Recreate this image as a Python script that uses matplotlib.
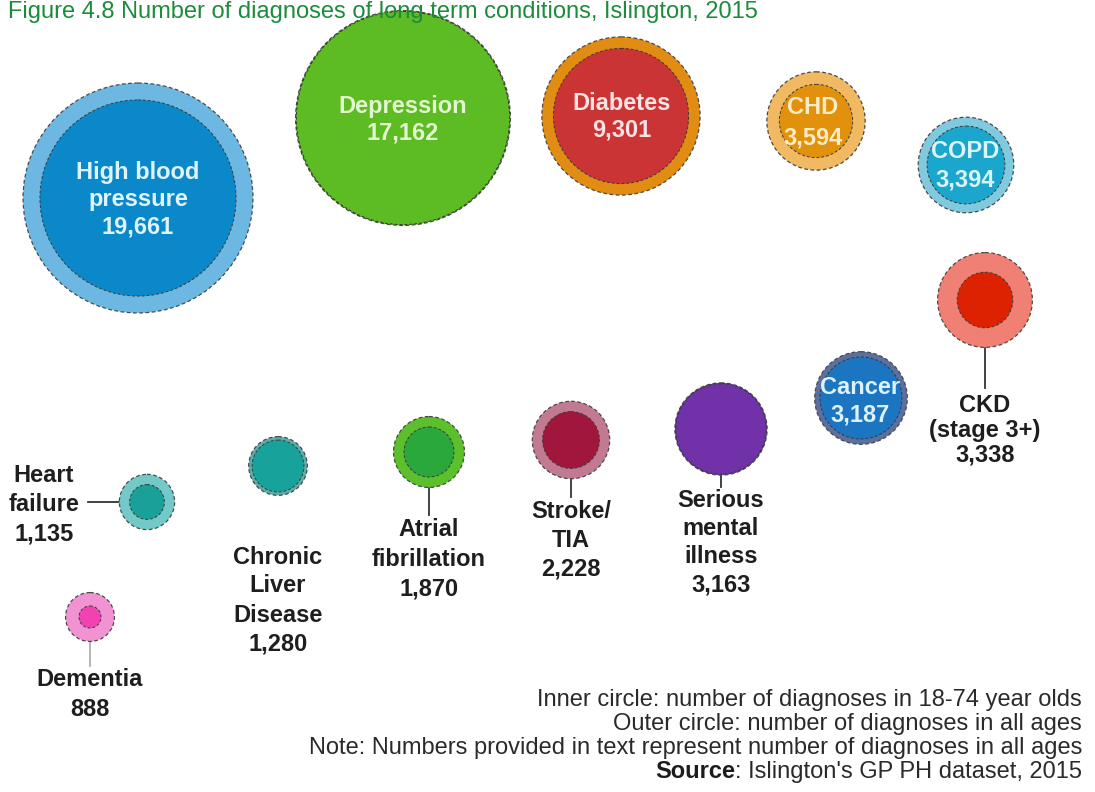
import numpy as np
import matplotlib.pyplot as plt
from matplotlib.patches import Circle

plt.rcParams['font.family'] = ['Liberation Sans', 'DejaVu Sans']

# diagnoses per condition (GP register, 2015)
conditions = ['High blood\npressure', 'Depression', 'Diabetes', 'CHD', 'COPD',
              'CKD\n(stage 3+)', 'Cancer', 'Serious\nmental\nillness', 'Stroke/\nTIA',
              'Atrial\nfibrillation', 'Chronic\nLiver\nDisease', 'Heart\nfailure', 'Dementia']
all_ages = [19661, 17162, 9301, 3594, 3394, 3338, 3187, 3163, 2228, 1870, 1280, 1135, 888]
age_18_74 = [14300, 16900, 6800, 2000, 2250, 1150, 2500, 3050, 1200, 930, 1000, 450, 180]

title = 'Figure 4.8 Number of diagnoses of long term conditions, Islington, 2015'
notes = ['Inner circle: number of diagnoses in 18-74 year olds',
         'Outer circle: number of diagnoses in all ages',
         'Note: Numbers provided in text represent number of diagnoses in all ages']
source = ": Islington's GP PH dataset, 2015"

# layout in pixel units (y grows downward)
centres = [(138, 198), (403, 118), (621, 116), (816, 121), (966, 165), (985, 300),
           (861, 398), (721, 429), (571, 440), (429, 452), (278, 466), (147, 502), (90, 617)]
label_pos = [(138, 197), (403, 117), (622, 114), (813, 120), (965, 163), (985, 428),
             (860, 399), (721, 540), (571, 538), (429, 557), (278, 598), (44, 502), (90, 692)]
line_step = [27.5, 27, 27, 30, 29, 24.5, 27, 28.3, 28.5, 29.5, 29, 29.5, 29]
inside = [True, True, True, True, True, False, True, False, False, False, False, False, False]
# leader line end (x, y) for labels outside the circle, None if no line
leaders = [None, None, None, None, None, (985, 388), None, (721, 487), (571, 497),
           (429, 515), None, (88, 502), (90, 666)]
outer_cols = ['#6db8e2', '#5dbb24', '#e18c12', '#f1b962', '#80c9de', '#ef8073', '#5b6fa0',
              '#7031a9', '#c27a92', '#5cbf2c', '#5aaeae', '#72c9c8', '#f192d2']
inner_cols = ['#0b88c9', '#5dbb24', '#cb3434', '#e1910b', '#1aa6cd', '#dc2200', '#1b75c1',
              '#7031a9', '#a1163b', '#2ba83b', '#17a29c', '#19a099', '#f242b2']
text_cols = ['#dff3fb', '#e4f6cf', '#fae3e3', '#fcebc6', '#dcf5fc', None, '#dcf0fd']

K = 0.82  # pixel radius per sqrt(diagnosis)

fig = plt.figure(figsize=(10.95, 7.92), dpi=100)
ax = fig.add_axes([0, 0, 1, 1])
ax.set_xlim(0, 1095)
ax.set_ylim(792, 0)
ax.axis('off')

for i, name in enumerate(conditions):
    cx, cy = centres[i]
    r_out = K * np.sqrt(all_ages[i])
    r_in = K * np.sqrt(age_18_74[i])
    ax.add_patch(Circle((cx, cy), r_out, facecolor=outer_cols[i], edgecolor='#4a4a4a',
                        lw=0.9, ls=(0, (3, 2)), zorder=2))
    ax.add_patch(Circle((cx, cy), r_in, facecolor=inner_cols[i], edgecolor='#3a3a3a',
                        lw=0.7, ls=(0, (3, 2)), zorder=3))

    lines = (name + '\n' + f'{all_ages[i]:,}').split('\n')
    lx, ly = label_pos[i]
    colour = text_cols[i] if inside[i] else '#1e1e1e'
    for k, line in enumerate(lines):
        y = ly + (k - (len(lines) - 1) / 2) * line_step[i]
        ax.text(lx, y, line, ha='center', va='center_baseline', fontsize=17,
                fontweight='bold', color=colour, zorder=5)

    if leaders[i] is not None:
        ex, ey = leaders[i]
        lc = '#b0b0b0' if name == 'Dementia' else '#333333'
        if ey == cy:
            ax.plot([cx - r_out, ex], [cy, ey], color=lc, lw=1.3, zorder=1)
        else:
            ax.plot([cx, ex], [cy + r_out, ey], color=lc, lw=1.3, zorder=1)

fig.text(8 / 1095, 1 - 18 / 792, title, ha='left', va='baseline', fontsize=17,
         color='#1a8c3a', zorder=1)

for j, line in enumerate(notes):
    fig.text(1082 / 1095, 1 - (700 + 24 * j) / 792, line, ha='right', va='center',
             fontsize=17, color='#2a2a2a')

src = fig.text(1082 / 1095, 1 - 772 / 792, source, ha='right', va='center',
               fontsize=17, color='#2a2a2a')
fig.canvas.draw()
x0 = src.get_window_extent().x0 / fig.bbox.width
fig.text(x0, 1 - 772 / 792, 'Source', ha='right', va='center', fontsize=17,
         fontweight='bold', color='#1c1c1c')

fig.savefig('out.png', dpi=100, facecolor='white')
